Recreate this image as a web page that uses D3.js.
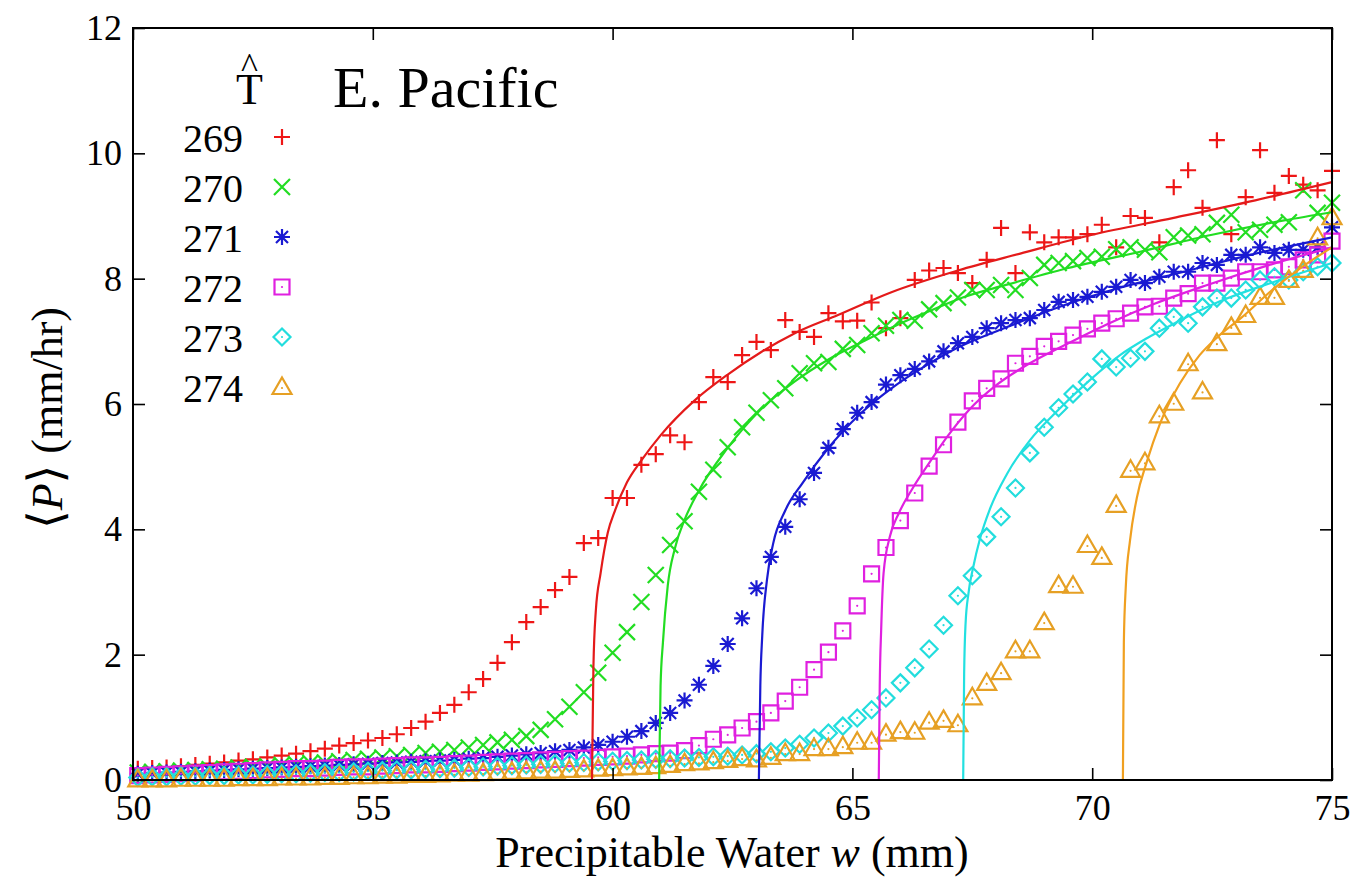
<!DOCTYPE html>
<html>
<head>
<meta charset="utf-8">
<script src="https://cdn.jsdelivr.net/npm/d3@7"></script>
<style>
  body { margin: 0; background: #fff; }
  text { font-family: "Liberation Serif", "Times New Roman", serif; fill: #000; }
</style>
</head>
<body>
<svg id="chart" width="1363" height="881"></svg>
<script>
// precipitable water bins (mm)
const water = [
  50.1, 50.4, 50.7, 51.0, 51.3, 51.6, 51.9, 52.2, 52.5, 52.8,
  53.1, 53.4, 53.7, 54.0, 54.3, 54.6, 54.9, 55.2, 55.5, 55.8,
  56.1, 56.4, 56.7, 57.0, 57.3, 57.6, 57.9, 58.2, 58.5, 58.8,
  59.1, 59.4, 59.7, 60.0, 60.3, 60.6, 60.9, 61.2, 61.5, 61.8,
  62.1, 62.4, 62.7, 63.0, 63.3, 63.6, 63.9, 64.2, 64.5, 64.8,
  65.1, 65.4, 65.7, 66.0, 66.3, 66.6, 66.9, 67.2, 67.5, 67.8,
  68.1, 68.4, 68.7, 69.0, 69.3, 69.6, 69.9, 70.2, 70.5, 70.8,
  71.1, 71.4, 71.7, 72.0, 72.3, 72.6, 72.9, 73.2, 73.5, 73.8,
  74.1, 74.4, 74.7, 75.0
];

// mean precip (mm/hr) for each T hat
const p269 = [
  0.18, 0.19, 0.20, 0.22, 0.24, 0.26, 0.28, 0.31, 0.33, 0.36,
  0.39, 0.42, 0.46, 0.50, 0.55, 0.59, 0.63, 0.67, 0.73, 0.83,
  0.93, 1.07, 1.20, 1.40, 1.61, 1.87, 2.20, 2.52, 2.76, 3.03,
  3.24, 3.78, 3.86, 4.50, 4.50, 5.03, 5.20, 5.50, 5.39, 6.03,
  6.43, 6.35, 6.78, 6.99, 6.86, 7.34, 7.15, 7.07, 7.45, 7.32,
  7.33, 7.62, 7.21, 7.37, 7.98, 8.13, 8.17, 8.09, 7.93, 8.30,
  8.81, 8.09, 8.74, 8.58, 8.66, 8.66, 8.71, 8.86, 8.50, 9.00,
  8.97, 8.58, 9.46, 9.73, 9.13, 10.21, 8.71, 9.30, 10.05, 9.37,
  9.64, 9.50, 9.41, 9.72
];
const p270 = [
  0.12, 0.13, 0.14, 0.15, 0.16, 0.17, 0.18, 0.20, 0.21, 0.22,
  0.24, 0.25, 0.27, 0.28, 0.30, 0.32, 0.34, 0.36, 0.38, 0.40,
  0.43, 0.45, 0.48, 0.52, 0.56, 0.60, 0.64, 0.70, 0.80, 0.97,
  1.17, 1.40, 1.71, 2.03, 2.36, 2.84, 3.27, 3.75, 4.13, 4.60,
  4.95, 5.31, 5.63, 5.86, 6.06, 6.25, 6.49, 6.65, 6.67, 6.88,
  6.94, 7.13, 7.25, 7.34, 7.33, 7.51, 7.61, 7.70, 7.82, 7.82,
  7.90, 7.82, 8.01, 8.22, 8.25, 8.28, 8.33, 8.35, 8.47, 8.50,
  8.46, 8.42, 8.66, 8.69, 8.71, 8.89, 9.02, 8.74, 8.78, 8.86,
  8.90, 9.41, 9.05, 9.21
];
const p271 = [
  0.10, 0.11, 0.12, 0.13, 0.14, 0.15, 0.16, 0.17, 0.18, 0.19,
  0.20, 0.21, 0.22, 0.23, 0.24, 0.25, 0.26, 0.27, 0.28, 0.29,
  0.30, 0.31, 0.32, 0.34, 0.35, 0.37, 0.39, 0.41, 0.43, 0.46,
  0.48, 0.52, 0.56, 0.61, 0.69, 0.78, 0.91, 1.07, 1.27, 1.52,
  1.82, 2.17, 2.58, 3.06, 3.56, 4.04, 4.48, 4.90, 5.30, 5.60,
  5.86, 6.03, 6.31, 6.46, 6.56, 6.68, 6.84, 6.97, 7.07, 7.21,
  7.29, 7.34, 7.37, 7.50, 7.63, 7.66, 7.71, 7.79, 7.87, 7.98,
  7.93, 8.03, 8.11, 8.11, 8.25, 8.22, 8.38, 8.38, 8.50, 8.41,
  8.46, 8.46, 8.50, 8.82
];
const p272 = [
  0.07, 0.08, 0.09, 0.10, 0.11, 0.12, 0.13, 0.14, 0.15, 0.16,
  0.17, 0.18, 0.18, 0.19, 0.20, 0.21, 0.21, 0.22, 0.23, 0.24,
  0.24, 0.25, 0.26, 0.27, 0.28, 0.29, 0.30, 0.31, 0.32, 0.33,
  0.34, 0.35, 0.36, 0.37, 0.38, 0.40, 0.42, 0.43, 0.47, 0.55,
  0.65, 0.72, 0.83, 0.93, 1.07, 1.26, 1.48, 1.76, 2.04, 2.38,
  2.78, 3.29, 3.71, 4.14, 4.58, 5.01, 5.35, 5.71, 6.05, 6.25,
  6.40, 6.65, 6.76, 6.92, 7.00, 7.10, 7.20, 7.29, 7.36, 7.45,
  7.55, 7.56, 7.69, 7.76, 7.93, 7.93, 8.01, 8.11, 8.11, 8.14,
  8.19, 8.30, 8.38, 8.60
];
const p273 = [
  0.04, 0.05, 0.05, 0.06, 0.06, 0.07, 0.07, 0.08, 0.08, 0.09,
  0.10, 0.10, 0.11, 0.12, 0.12, 0.13, 0.14, 0.15, 0.16, 0.16,
  0.17, 0.18, 0.19, 0.20, 0.21, 0.22, 0.23, 0.24, 0.25, 0.26,
  0.27, 0.28, 0.29, 0.30, 0.31, 0.32, 0.33, 0.34, 0.35, 0.36,
  0.37, 0.38, 0.40, 0.42, 0.45, 0.51, 0.57, 0.67, 0.75, 0.86,
  0.99, 1.12, 1.31, 1.55, 1.79, 2.09, 2.47, 2.94, 3.26, 3.88,
  4.20, 4.66, 5.22, 5.63, 5.94, 6.16, 6.35, 6.72, 6.59, 6.73,
  6.84, 7.21, 7.39, 7.29, 7.55, 7.69, 7.69, 7.82, 7.98, 8.03,
  7.98, 8.11, 8.19, 8.25
];
const p274 = [
  0.01, 0.01, 0.01, 0.02, 0.02, 0.02, 0.02, 0.03, 0.03, 0.03,
  0.04, 0.04, 0.04, 0.05, 0.05, 0.06, 0.06, 0.07, 0.07, 0.08,
  0.08, 0.09, 0.10, 0.10, 0.11, 0.12, 0.13, 0.14, 0.15, 0.15,
  0.16, 0.17, 0.18, 0.19, 0.20, 0.21, 0.22, 0.24, 0.27, 0.28,
  0.30, 0.32, 0.35, 0.33, 0.37, 0.43, 0.43, 0.51, 0.51, 0.54,
  0.61, 0.61, 0.74, 0.78, 0.77, 0.93, 0.96, 0.89, 1.32, 1.55,
  1.72, 2.07, 2.07, 2.52, 3.11, 3.10, 3.75, 3.56, 4.39, 4.95,
  5.07, 5.82, 6.02, 6.65, 6.20, 6.97, 7.23, 7.42, 7.71, 7.71,
  7.98, 8.14, 8.66, 8.98
];

// fitted curves, [w, P]
const fit269 = [[59.57, 0], [59.6, 1.8], [59.65, 2.7], [59.75, 3.3], [59.9, 3.95], [60.05, 4.3], [60.3, 4.75],
  [60.6, 5.1], [61.0, 5.5], [61.7, 6.05], [62.4, 6.47], [63.1, 6.83], [63.8, 7.13], [64.7, 7.42], [65.8, 7.78],
  [67.2, 8.13], [68.5, 8.4], [70.0, 8.7], [71.7, 8.97], [73.4, 9.25], [75.0, 9.54]];
const fit270 = [[60.97, 0], [61.0, 1.5], [61.05, 2.2], [61.15, 3.1], [61.3, 3.7], [61.5, 4.15], [61.8, 4.62],
  [62.4, 5.3], [63.1, 5.92], [63.8, 6.36], [64.5, 6.71], [65.2, 6.99], [65.9, 7.25], [66.6, 7.48], [67.3, 7.7],
  [68.2, 7.9], [69.5, 8.17], [71.0, 8.43], [72.5, 8.7], [74.0, 8.93], [75.0, 9.06]];
const fit271 = [[63.05, 0], [63.08, 1.5], [63.12, 2.3], [63.22, 3.2], [63.35, 3.78], [63.6, 4.3], [63.97, 4.75],
  [64.47, 5.27], [65.16, 5.84], [65.85, 6.27], [66.55, 6.62], [67.2, 6.9], [68.2, 7.22], [69.5, 7.6],
  [70.5, 7.84], [71.7, 8.07], [73.3, 8.38], [75.0, 8.66]];
const fit272 = [[65.55, 0], [65.57, 1.5], [65.6, 2.4], [65.65, 3.3], [65.78, 3.88], [65.97, 4.26], [66.26, 4.66],
  [66.62, 5.08], [66.97, 5.47], [67.45, 5.92], [68.0, 6.3], [68.7, 6.65], [69.4, 6.93], [70.3, 7.27],
  [71.3, 7.6], [72.4, 7.9], [73.7, 8.22], [75.0, 8.5]];
const fit273 = [[67.31, 0], [67.33, 1.7], [67.36, 2.5], [67.42, 2.98], [67.52, 3.4], [67.66, 3.85], [67.87, 4.33],
  [68.22, 4.88], [68.7, 5.42], [69.26, 5.88], [69.95, 6.38], [70.58, 6.78], [71.14, 7.05], [71.7, 7.28],
  [72.7, 7.65], [73.8, 7.95], [75.0, 8.25]];
const fit274 = [[70.64, 0], [70.66, 2.2], [70.7, 3.08], [70.79, 3.83], [70.93, 4.5], [71.14, 5.08], [71.41, 5.68],
  [71.83, 6.33], [72.24, 6.78], [72.6, 7.06], [73.1, 7.37], [73.8, 7.85], [74.4, 8.2], [75.0, 8.5]];

const labels = ["269", "270", "271", "272", "273", "274"];
const xTicks = [50, 55, 60, 65, 70, 75];
const yTicks = [0, 2, 4, 6, 8, 10, 12];

const series = [
  {label: labels[0], shape: "plus",     color: "#ee1616", line: "#e41a1a", vals: p269, fit: fit269},
  {label: labels[1], shape: "cross",    color: "#22dd22", line: "#22dd22", vals: p270, fit: fit270},
  {label: labels[2], shape: "star",     color: "#1a1ad2", line: "#1a1ad2", vals: p271, fit: fit271},
  {label: labels[3], shape: "box",      color: "#e020e0", line: "#e020e0", vals: p272, fit: fit272},
  {label: labels[4], shape: "diamond",  color: "#22dddd", line: "#22e0e0", vals: p273, fit: fit273},
  {label: labels[5], shape: "triangle", color: "#e6a024", line: "#f0a020", vals: p274, fit: fit274}
];

const svg = d3.select("#chart");
const serif = '"Liberation Serif", "Times New Roman", serif';
const x = d3.scaleLinear().domain([50, 75]).range([133, 1332]);
const y = d3.scaleLinear().domain([0, 12]).range([780, 28]);

// gnuplot-like point symbols
function symbol(shape) {
  const h = 8;
  switch (shape) {
    case "plus": return `M${-h},0H${h}M0,${-h}V${h}`;
    case "cross": return `M${-h},${-h}L${h},${h}M${-h},${h}L${h},${-h}`;
    case "star": return `M${-h},0H${h}M0,${-h}V${h}M${-h*0.75},${-h*0.75}L${h*0.75},${h*0.75}M${-h*0.75},${h*0.75}L${h*0.75},${-h*0.75}`;
    case "box": return `M-7.5,-7.5H7.5V7.5H-7.5Z`;
    case "diamond": return `M0,-8.5L8.5,0L0,8.5L-8.5,0Z`;
    case "triangle": return `M0,-9.5L9.5,7H-9.5Z`;
  }
}
const dotted = s => s === "box" || s === "diamond" || s === "triangle";

function drawMarker(g, s) {
  g.append("path").attr("d", symbol(s.shape))
    .attr("fill", "none").attr("stroke", s.color).attr("stroke-width", 2.2);
  if (dotted(s.shape)) {
    g.append("circle").attr("r", 1.1).attr("cy", s.shape === "triangle" ? 1 : 0).attr("fill", s.color);
  }
}

// points
series.forEach(s => {
  const pts = water.map((w, i) => [w, s.vals[i]]);
  svg.append("g").selectAll("g")
    .data(pts)
    .join("g")
    .attr("transform", d => `translate(${x(d[0])},${y(d[1])})`)
    .each(function() { drawMarker(d3.select(this), s); });
});

// fit lines
const line = d3.line().x(d => x(d[0])).y(d => y(d[1])).curve(d3.curveMonotoneX);
series.forEach(s => {
  svg.append("path").datum(s.fit)
    .attr("d", line)
    .attr("fill", "none")
    .attr("stroke", s.line)
    .attr("stroke-width", 2.2);
});

// axes with inward ticks on all four sides
const tickFont = g => g.selectAll("text").style("font-size", "36px").style("font-family", serif).attr("fill", "#000");
svg.append("g").attr("transform", "translate(0,780)")
  .call(d3.axisBottom(x).tickValues(xTicks).tickSize(-12).tickSizeOuter(0).tickPadding(14))
  .call(tickFont);
svg.append("g").attr("transform", "translate(0,28)")
  .call(d3.axisTop(x).tickValues(xTicks).tickSize(-12).tickSizeOuter(0).tickFormat(""));
svg.append("g").attr("transform", "translate(133,0)")
  .call(d3.axisLeft(y).tickValues(yTicks).tickSize(-12).tickSizeOuter(0).tickPadding(11))
  .call(tickFont);
svg.append("g").attr("transform", "translate(1332,0)")
  .call(d3.axisRight(y).tickValues(yTicks).tickSize(-12).tickSizeOuter(0).tickFormat(""));
svg.selectAll(".domain").remove();
svg.selectAll(".tick line").attr("stroke", "#000").attr("stroke-width", 1.6);

svg.append("rect")
  .attr("x", 133).attr("y", 28).attr("width", 1199).attr("height", 752)
  .attr("fill", "none").attr("stroke", "#000").attr("stroke-width", 2);

// axis titles
const xt = svg.append("text").attr("x", 732).attr("y", 867).attr("text-anchor", "middle")
  .style("font-family", serif).style("font-size", "44px");
xt.append("tspan").text("Precipitable Water ");
xt.append("tspan").style("font-style", "italic").text("w");
xt.append("tspan").text(" (mm)");

const yt = svg.append("text").attr("transform", "translate(62,418) rotate(-90)")
  .attr("text-anchor", "middle").style("font-family", serif).style("font-size", "44px");
yt.append("tspan").style("font-family", '"DejaVu Serif", serif').style("font-size", "48px").text("\u27E8");
yt.append("tspan").style("font-style", "italic").text("P");
yt.append("tspan").style("font-family", '"DejaVu Serif", serif').style("font-size", "48px").text("\u27E9");
yt.append("tspan").text(" (mm/hr)");

// legend title: T with a hat, kept in one text element
const th = svg.append("text").attr("x", 236).attr("y", 104).style("font-family", serif).style("font-size", "44px");
th.append("tspan").text("T");
th.append("tspan").attr("dx", -22).attr("dy", -26).style("font-size", "36px").text("^");

svg.append("text").attr("x", 333).attr("y", 107).style("font-family", serif).style("font-size", "58px").text("E. Pacific");

series.forEach((s, i) => {
  const by = 152 + i * 50;
  svg.append("text").attr("x", 243).attr("y", by).attr("text-anchor", "end")
    .style("font-family", serif).style("font-size", "40px").text(s.label);
  const g = svg.append("g").attr("transform", `translate(282,${by - 15})`);
  drawMarker(g, s);
});
</script>
</body>
</html>
